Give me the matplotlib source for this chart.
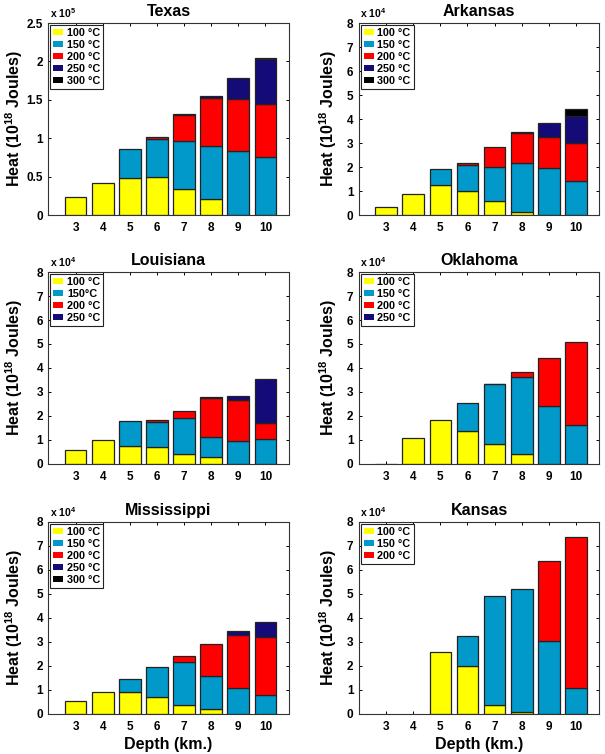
import matplotlib
matplotlib.use("Agg")
import matplotlib.pyplot as plt
from matplotlib.patches import Patch
import numpy as np

plt.rcParams['font.family'] = ['Liberation Sans', 'DejaVu Sans']
plt.rcParams['font.weight'] = 'bold'
plt.rcParams['mathtext.fontset'] = 'custom'
plt.rcParams['mathtext.rm'] = 'Liberation Sans:bold'
plt.rcParams['mathtext.it'] = 'Liberation Sans:bold'
plt.rcParams['mathtext.bf'] = 'Liberation Sans:bold'

depths = [3, 4, 5, 6, 7, 8, 9, 10]
temp_labels = ["100 °C", "150 °C", "200 °C", "250 °C", "300 °C"]
colors = ["#FFFF00", "#0099C9", "#FF0000", "#150B78", "#000000"]

# Texas (x 10^5)
texas_100 = [0.235, 0.415, 0.477, 0.50, 0.34, 0.21, 0.0, 0.0]
texas_150 = [0.0, 0.0, 0.377, 0.485, 0.62, 0.69, 0.83, 0.76]
texas_200 = [0.0, 0.0, 0.0, 0.035, 0.34, 0.62, 0.685, 0.685]
texas_250 = [0.0, 0.0, 0.0, 0.0, 0.012, 0.025, 0.27, 0.585]
texas_300 = [0.0, 0.0, 0.0, 0.0, 0.0, 0.0, 0.0, 0.02]

# Arkansas (x 10^4)
arkansas_100 = [0.35, 0.86, 1.23, 1.0, 0.6, 0.14, 0.0, 0.0]
arkansas_150 = [0.0, 0.0, 0.68, 1.07, 1.41, 2.04, 1.94, 1.41]
arkansas_200 = [0.0, 0.0, 0.0, 0.10, 0.82, 1.22, 1.31, 1.61]
arkansas_250 = [0.0, 0.0, 0.0, 0.0, 0.0, 0.04, 0.60, 1.11]
arkansas_300 = [0.0, 0.0, 0.0, 0.0, 0.0, 0.0, 0.0, 0.27]

# Louisiana (x 10^4)
louisiana_100 = [0.57, 1.01, 0.76, 0.72, 0.43, 0.29, 0.0, 0.0]
louisiana_150 = [0.0, 0.0, 1.02, 1.01, 1.48, 0.84, 0.97, 1.05]
louisiana_200 = [0.0, 0.0, 0.0, 0.12, 0.28, 1.63, 1.70, 0.64]
louisiana_250 = [0.0, 0.0, 0.0, 0.0, 0.0, 0.03, 0.17, 1.87]

# Oklahoma (x 10^4)
oklahoma_100 = [0.02, 1.08, 1.85, 1.36, 0.85, 0.42, 0.0, 0.0]
oklahoma_150 = [0.0, 0.0, 0.0, 1.17, 2.47, 3.21, 2.41, 1.63]
oklahoma_200 = [0.0, 0.0, 0.0, 0.0, 0.03, 0.20, 2.02, 3.45]
oklahoma_250 = [0.0, 0.0, 0.0, 0.0, 0.0, 0.0, 0.0, 0.0]

# Mississippi (x 10^4)
mississippi_100 = [0.53, 0.90, 0.93, 0.71, 0.36, 0.21, 0.0, 0.0]
mississippi_150 = [0.0, 0.0, 0.54, 1.26, 1.81, 1.37, 1.08, 0.78]
mississippi_200 = [0.0, 0.0, 0.0, 0.0, 0.26, 1.34, 2.21, 2.41]
mississippi_250 = [0.0, 0.0, 0.0, 0.0, 0.0, 0.0, 0.15, 0.63]
mississippi_300 = [0.0, 0.0, 0.0, 0.0, 0.0, 0.0, 0.0, 0.0]

# Kansas (x 10^4)
kansas_100 = [0.0, 0.0, 2.60, 2.01, 0.36, 0.08, 0.0, 0.0]
kansas_150 = [0.0, 0.0, 0.0, 1.25, 4.54, 5.12, 3.04, 1.07]
kansas_200 = [0.0, 0.0, 0.0, 0.0, 0.0, 0.0, 3.35, 6.30]

panels = [
    dict(title="Texas", series=[texas_100, texas_150, texas_200, texas_250, texas_300],
         labels=temp_labels, exp="5", ymax=2.5, yticks=[0, 0.5, 1, 1.5, 2, 2.5],
         yticklabels=["0", "0.5", "1", "1.5", "2", "2.5"]),
    dict(title="Arkansas", series=[arkansas_100, arkansas_150, arkansas_200, arkansas_250, arkansas_300],
         labels=temp_labels, exp="4", ymax=8, yticks=list(range(9)),
         yticklabels=[str(i) for i in range(9)]),
    dict(title="Louisiana", series=[louisiana_100, louisiana_150, louisiana_200, louisiana_250],
         labels=["100 °C", "150°C", "200 °C", "250 °C"], exp="4", ymax=8, yticks=list(range(9)),
         yticklabels=[str(i) for i in range(9)]),
    dict(title="Oklahoma", series=[oklahoma_100, oklahoma_150, oklahoma_200, oklahoma_250],
         labels=temp_labels[:4], exp="4", ymax=8, yticks=list(range(9)),
         yticklabels=[str(i) for i in range(9)]),
    dict(title="Mississippi", series=[mississippi_100, mississippi_150, mississippi_200, mississippi_250, mississippi_300],
         labels=temp_labels, exp="4", ymax=8, yticks=list(range(9)),
         yticklabels=[str(i) for i in range(9)]),
    dict(title="Kansas", series=[kansas_100, kansas_150, kansas_200],
         labels=temp_labels[:3], exp="4", ymax=8, yticks=list(range(9)),
         yticklabels=[str(i) for i in range(9)]),
]

W, H = 605, 754
fig = plt.figure(figsize=(W / 100, H / 100), dpi=100)

col_left = [48.5, 359]
ax_w = 240
row_top = [23, 272, 522]
ax_h = 192

for i, p in enumerate(panels):
    r, c = divmod(i, 2)
    left = col_left[c] / W
    bottom = 1 - (row_top[r] + ax_h) / H
    ax = fig.add_axes([left, bottom, ax_w / W, ax_h / H])

    base = np.zeros(len(depths))
    for k, vals in enumerate(p["series"]):
        vals = np.array(vals, dtype=float)
        mask = vals > 0
        ax.bar(np.array(depths)[mask], vals[mask], width=0.8, bottom=base[mask],
               color=colors[k], edgecolor="#222222", linewidth=0.9, zorder=2)
        base = base + vals

    ax.set_xlim(2.0, 10.85)
    ax.set_ylim(0, p["ymax"])
    ax.set_xticks(depths)
    ax.set_xticklabels([str(d) for d in depths])
    ax.set_yticks(p["yticks"])
    ax.set_yticklabels(p["yticklabels"])
    ax.tick_params(direction="in", length=2.5, width=0.7, top=True, right=True,
                   labelsize=8.5, pad=4)
    ax.tick_params(axis="x", pad=5)
    for s in ax.spines.values():
        s.set_linewidth(0.8)
        s.set_color("#333333")

    ax.set_title(p["title"], fontsize=11.5, fontweight="bold", pad=5)
    ax.text(0.005, 1.015, "x 10$^{" + p["exp"] + "}$", transform=ax.transAxes,
            fontsize=7.5, fontweight="bold", ha="left", va="bottom")

    ax.set_ylabel("Heat (10$^{18}$ Joules)", fontsize=11.5, fontweight="bold", va="center")
    ax.yaxis.set_label_coords(-0.145 if c == 0 else -0.13, 0.5)

    if r == 2:
        ax.set_xlabel("Depth (km.)", fontsize=11.5, fontweight="bold", va="center")
        ax.xaxis.set_label_coords(0.5, -0.161)

    handles = [Patch(facecolor=colors[k], edgecolor="none") for k in range(len(p["labels"]))]
    leg = ax.legend(handles, p["labels"], loc="upper left",
                    handlelength=0.9, handleheight=0.55, handletextpad=0.35,
                    labelspacing=0.18, borderpad=0.3, borderaxespad=0.15,
                    fancybox=False, framealpha=1, edgecolor="#222222",
                    prop={"weight": "bold", "size": 7.8})
    leg.get_frame().set_linewidth(0.8)

fig.savefig("out.png", dpi=100)
